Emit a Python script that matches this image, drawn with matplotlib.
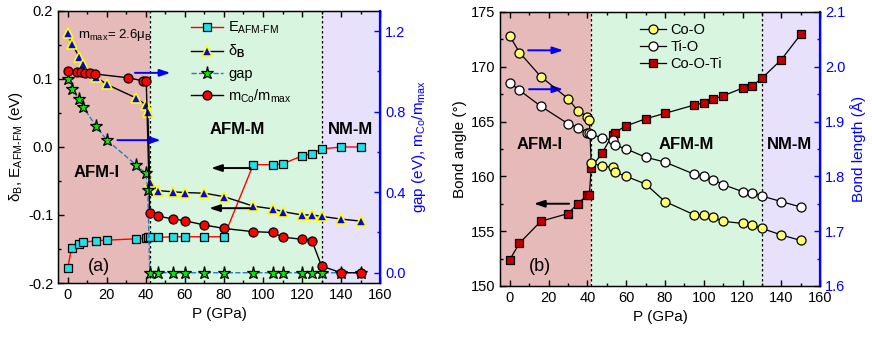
import matplotlib
matplotlib.use("Agg")
import matplotlib.pyplot as plt
from matplotlib.ticker import MultipleLocator, FormatStrFormatter

# ─── style ─────────────────────────────────────────────────────────────────────
plt.rcParams.update({
    "font.family": ["Liberation Sans", "DejaVu Sans"],
    "mathtext.fontset": "custom",
    "mathtext.rm": "Liberation Sans",
    "mathtext.it": "Liberation Sans:italic",
    "mathtext.bf": "Liberation Sans:bold",
    "mathtext.default": "regular",
    "axes.unicode_minus": False,
    "xtick.direction": "in",
    "ytick.direction": "in",
    "xtick.top": True,
    "font.size": 10.5,
})

# ─── panel (a) data ────────────────────────────────────────────────────────────
P_a = [0, 2, 6, 8, 14.5, 20, 35, 40, 41, 42, 46, 54, 60, 70, 80,
       95, 105, 110, 120, 125, 130, 140, 150]
e_afm_fm = [-0.178, -0.148, -0.143, -0.140, -0.138, -0.137, -0.135, -0.134,
            -0.133, -0.133, -0.133, -0.132, -0.132, -0.132, -0.132,
            -0.026, -0.026, -0.025, -0.013, -0.010, -0.003, 0.0, 0.0]
delta_b = [0.167, 0.152, 0.132, 0.122, 0.103, 0.092, 0.072, 0.062, 0.052,
           -0.051, -0.064, -0.066, -0.067, -0.068, -0.073,
           -0.087, -0.091, -0.095, -0.100, -0.100, -0.102, -0.106, -0.109]
gap = [0.962, 0.911, 0.861, 0.821, 0.728, 0.659, 0.535, 0.493, 0.411,
       0.0, 0.0, 0.0, 0.0, 0.0, 0.0, 0.0, 0.0, 0.0, 0.0, 0.0, 0.0, 0.0, 0.0]

P_m = [0, 4.5, 7, 9, 11.5, 14, 31, 38.5, 40.2, 42, 46, 54, 60, 70, 80,
       95, 105, 110, 120, 125, 130, 140, 150]
m_ratio = [1.0, 0.997, 0.996, 0.993, 0.990, 0.987, 0.968, 0.953, 0.953,
           0.295, 0.281, 0.267, 0.258, 0.237, 0.220,
           0.204, 0.200, 0.177, 0.166, 0.160, 0.033, 0.0, 0.0]

# ─── panel (b) data ────────────────────────────────────────────────────────────
P_b = [0, 5, 16, 30, 35, 40, 41, 42, 47.5, 53, 54, 60, 70, 80,
       95, 100, 105, 110, 120, 125, 130, 140, 150]
co_o = [2.056, 2.026, 1.982, 1.942, 1.920, 1.909, 1.902, 1.825, 1.818, 1.817,
        1.808, 1.800, 1.786, 1.754, 1.730, 1.730, 1.725, 1.718, 1.714, 1.711,
        1.705, 1.693, 1.683]
ti_o = [1.971, 1.957, 1.928, 1.896, 1.889, 1.880, 1.879, 1.877, 1.870, 1.866,
        1.857, 1.850, 1.835, 1.826, 1.804, 1.800, 1.794, 1.785, 1.772, 1.770,
        1.764, 1.754, 1.744]
co_o_ti = [152.4, 153.9, 155.9, 156.6, 157.5, 158.3, 158.3, 160.8, 162.1,
           163.8, 164.0, 164.6, 165.25, 165.75, 166.5, 166.7, 167.05, 167.35,
           168.05, 168.25, 168.95, 170.65, 172.95]

# phase boundaries
P_edges = [-5, 42, 130, 160]
phase_names = ["AFM-I", "AFM-M", "NM-M"]
phase_colors = ["#e7baba", "#d8f5df", "#e7e1fb"]


def shade(ax):
    for i in range(3):
        ax.axvspan(P_edges[i], P_edges[i + 1], color=phase_colors[i], lw=0, zorder=0)
    for p in P_edges[1:3]:
        ax.axvline(p, color="k", ls=(0, (2, 2)), lw=0.9, zorder=1)


def style_axes(ax, twin):
    ax.set_xlim(-5, 160)
    ax.xaxis.set_major_locator(MultipleLocator(20))
    ax.xaxis.set_minor_locator(MultipleLocator(10))
    ax.tick_params(which="both", width=1.0)
    ax.tick_params(which="major", length=4)
    ax.tick_params(which="minor", length=2.5)
    ax.set_xlabel("P (GPa)", fontsize=11)
    for s in ax.spines.values():
        s.set_linewidth(1.0)
    twin.spines["right"].set_color("blue")
    twin.spines["right"].set_linewidth(1.6)
    twin.tick_params(axis="y", which="both", colors="blue", width=1.0)
    twin.tick_params(axis="y", which="major", length=4)
    twin.tick_params(axis="y", which="minor", length=2.5)


fig = plt.figure(figsize=(8.72, 3.42), dpi=100)

# ─── (a) ───────────────────────────────────────────────────────────────────────
ax = fig.add_axes([0.0665, 0.1725, 0.3695, 0.7955])
tw = ax.twinx()
shade(ax)

h1, = ax.plot(P_a, e_afm_fm, "-s", color="red", lw=1.0, mfc="#22e0e6", mec="k",
              mew=0.9, ms=5.5, label=r"E$_{AFM\text{-}FM}$", zorder=3)
h2, = ax.plot(P_a, delta_b, "-^", color="k", lw=1.0, mfc="#0000ff", mec="#ffff00",
              mew=1.2, ms=7, label=r"$\delta_\mathbf{B}$", zorder=3)
h3, = tw.plot(P_a, gap, "--*", color="#1f7fbf", lw=1.0, mfc="#00ee00", mec="k",
              mew=0.9, ms=9.5, label="gap", zorder=3)
h4, = tw.plot(P_m, m_ratio, "-o", color="k", lw=1.0, mfc="red", mec="k",
              mew=0.9, ms=6.5, label=r"m$_{Co}$/m$_{max}$", zorder=4)

ax.set_ylim(-0.2, 0.2)
ax.yaxis.set_major_locator(MultipleLocator(0.1))
ax.yaxis.set_minor_locator(MultipleLocator(0.05))
ax.yaxis.set_major_formatter(FormatStrFormatter("%.1f"))
ax.set_ylabel(r"$\delta_B$, E$_{AFM\text{-}FM}$ (eV)", fontsize=11, labelpad=2)
tw.set_ylim(-0.051, 1.3)
tw.yaxis.set_major_locator(MultipleLocator(0.4))
tw.yaxis.set_minor_locator(MultipleLocator(0.2))
tw.yaxis.set_major_formatter(FormatStrFormatter("%.1f"))
tw.set_ylabel(r"gap (eV), m$_{Co}$/m$_{max}$", color="blue", fontsize=11, labelpad=3)
style_axes(ax, tw)

arr_b = dict(arrowstyle="-|>,head_length=0.6,head_width=0.2", color="blue", lw=1.4)
arr_k = dict(arrowstyle="-|>,head_length=0.6,head_width=0.2", color="k", lw=1.4)
ax.annotate("", xy=(54, 0.109), xytext=(33, 0.109), arrowprops=arr_b, zorder=5)
ax.annotate("", xy=(49, 0.010), xytext=(24, 0.010), arrowprops=arr_b, zorder=5)
ax.annotate("", xy=(72, -0.031), xytext=(95, -0.031), arrowprops=arr_k, zorder=5)
ax.annotate("", xy=(71, -0.090), xytext=(95, -0.090), arrowprops=arr_k, zorder=5)

ax.text(5.5, 0.165, r"m$_{max}$= 2.6μ$_B$", fontsize=9.5, va="center")
ax.text(15, -0.037, phase_names[0], fontsize=12, weight="bold", ha="center", va="center")
ax.text(87, 0.026, phase_names[1], fontsize=12, weight="bold", ha="center", va="center")
ax.text(145, 0.026, phase_names[2], fontsize=12, weight="bold", ha="center", va="center")
ax.text(16, -0.176, "(a)", fontsize=13, ha="center", va="center")

tw.legend(handles=[h1, h2, h3, h4], loc="upper left", bbox_to_anchor=(0.385, 1.0),
          frameon=False, handlelength=2.2, handletextpad=0.35, labelspacing=0.45,
          fontsize=10.5, borderaxespad=0.2)

# ─── (b) ───────────────────────────────────────────────────────────────────────
bx = fig.add_axes([0.5735, 0.164, 0.367, 0.801])
tb = bx.twinx()
shade(bx)

g3, = bx.plot(P_b, co_o_ti, "-s", color="k", lw=0.9, mfc="#c00000", mec="k",
              mew=0.9, ms=6, label="Co-O-Ti", zorder=3)
g1, = tb.plot(P_b, co_o, "-o", color="k", lw=0.9, mfc="#ffff70", mec="k",
              mew=0.9, ms=6.5, label="Co-O", zorder=3)
g2, = tb.plot(P_b, ti_o, "-o", color="k", lw=0.9, mfc="white", mec="k",
              mew=0.9, ms=6.5, label="Ti-O", zorder=3)

bx.set_ylim(150, 175)
bx.yaxis.set_major_locator(MultipleLocator(5))
bx.yaxis.set_minor_locator(MultipleLocator(2.5))
bx.set_ylabel("Bond angle (°)", fontsize=11, labelpad=3)
tb.set_ylim(1.6, 2.1)
tb.yaxis.set_major_locator(MultipleLocator(0.1))
tb.yaxis.set_minor_locator(MultipleLocator(0.05))
tb.yaxis.set_major_formatter(FormatStrFormatter("%.1f"))
tb.set_ylabel("Bond length (Å)", color="blue", fontsize=11, labelpad=3)
style_axes(bx, tb)

bx.annotate("", xy=(29, 171.5), xytext=(8, 171.5), arrowprops=arr_b, zorder=5)
bx.annotate("", xy=(29, 167.95), xytext=(8.5, 167.95), arrowprops=arr_b, zorder=5)
bx.annotate("", xy=(11, 157.5), xytext=(32, 157.5), arrowprops=arr_k, zorder=5)

bx.text(15.4, 162.9, phase_names[0], fontsize=12, weight="bold", ha="center", va="center")
bx.text(91, 162.9, phase_names[1], fontsize=12, weight="bold", ha="center", va="center")
bx.text(144, 162.9, phase_names[2], fontsize=12, weight="bold", ha="center", va="center")
bx.text(15.4, 151.8, "(b)", fontsize=13, ha="center", va="center")

tb.legend(handles=[g1, g2, g3], loc="upper left", bbox_to_anchor=(0.41, 0.99),
          frameon=False, handlelength=1.8, handletextpad=0.3, labelspacing=0.2,
          fontsize=10.5, borderaxespad=0.2)

fig.savefig("out.png", dpi=100)
